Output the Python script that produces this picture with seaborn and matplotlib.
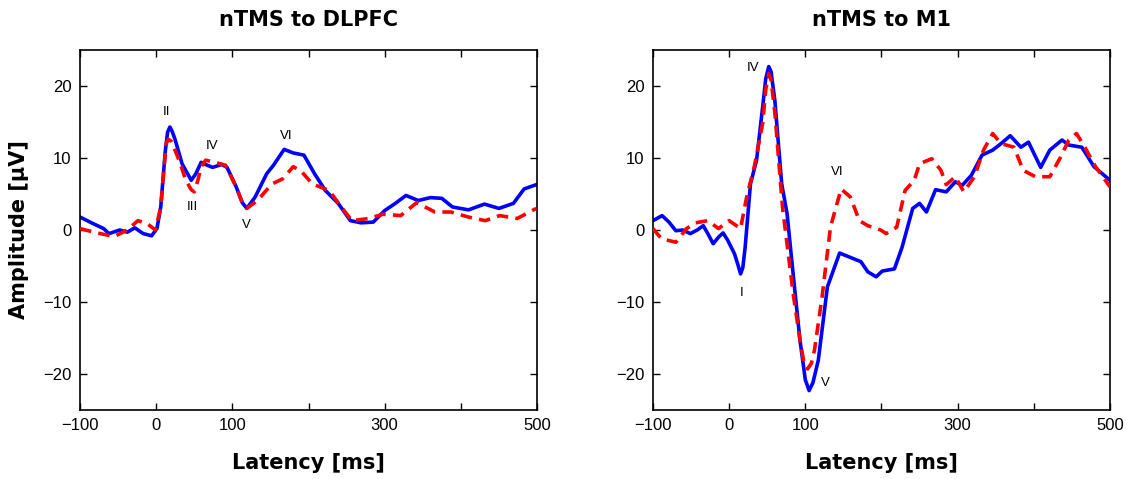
import numpy as np
import pandas as pd
import matplotlib
matplotlib.use("Agg")
import matplotlib.pyplot as plt
import seaborn as sns

# ---- data ----
dl_blue_t = [-100, -83, -69, -62, -48, -38, -28, -17, -6, 1, 6, 12, 15, 18, 21, 25, 34, 46, 52, 59, 67, 74, 86,
             93, 105, 113, 119, 130, 145, 154, 168, 180, 194, 208, 222, 239, 255, 269, 285, 300, 314, 328, 344,
             360, 375, 389, 410, 431, 450, 469, 483, 499]
dl_blue_v = [1.8, 0.9, 0.2, -0.5, 0.0, -0.3, 0.3, -0.5, -0.8, 0.2, 3.2, 11.0, 13.6, 14.3, 13.7, 12.5, 9.2, 6.9,
             7.8, 9.4, 9.0, 8.7, 9.1, 8.7, 6.0, 3.8, 3.0, 4.6, 7.8, 9.0, 11.2, 10.7, 10.4, 7.8, 5.5, 3.7, 1.3,
             1.0, 1.1, 2.7, 3.7, 4.8, 4.1, 4.5, 4.4, 3.2, 2.8, 3.6, 3.0, 3.7, 5.7, 6.3]
dl_red_t = [-100, -78, -55, -38, -24, -12, -1, 6, 13, 16, 20, 30, 39, 46, 50, 55, 59, 65, 77, 91, 105, 113, 119,
            133, 152, 166, 180, 191, 205, 227, 243, 257, 279, 298, 321, 342, 366, 387, 410, 432, 451, 474, 499]
dl_red_v = [0.2, -0.4, -0.9, 0.0, 1.3, 0.9, 0.0, 3.2, 12.0, 12.6, 12.3, 9.7, 6.9, 5.6, 5.3, 7.0, 8.8, 9.7, 9.4,
            9.0, 6.0, 3.8, 3.0, 4.1, 6.4, 7.1, 8.8, 8.1, 6.4, 5.5, 3.2, 1.3, 1.6, 2.2, 2.0, 3.8, 2.5, 2.5, 1.8,
            1.3, 2.0, 1.6, 3.0]

m1_blue_t = [-100, -88, -79, -70, -61, -51, -42, -34, -28, -21, -14, -8, -2, 7, 12, 15, 18, 21, 28, 36, 44, 48,
             52, 55, 60, 69, 76, 84, 93, 100, 105, 110, 117, 129, 145, 159, 173, 182, 193, 201, 217, 227, 241,
             250, 259, 271, 285, 297, 306, 318, 332, 346, 357, 369, 383, 393, 409, 421, 437, 446, 463, 479, 500]
m1_blue_v = [1.3, 2.0, 1.1, -0.1, 0.0, -0.5, 0.0, 0.6, -0.5, -1.9, -1.0, -0.4, -1.4, -3.3, -5.0, -6.1, -5.2,
             -2.4, 6.4, 9.7, 17.1, 21.0, 22.7, 22.0, 18.0, 6.4, 2.3, -6.1, -15.3, -20.8, -22.3, -21.2, -18.1,
             -7.9, -3.2, -3.8, -4.4, -5.8, -6.5, -5.7, -5.4, -2.4, 3.0, 3.7, 2.5, 5.6, 5.3, 6.7, 6.2, 7.6, 10.4,
             11.1, 12.0, 13.1, 11.5, 12.2, 8.7, 11.1, 12.5, 11.8, 11.5, 8.8, 6.9]
m1_red_t = [-100, -89, -70, -56, -44, -28, -14, 0, 15, 23, 33, 44, 48, 52, 55, 60, 70, 84, 93, 98, 103, 108, 112,
            122, 133, 147, 159, 171, 182, 199, 206, 220, 231, 243, 250, 266, 278, 285, 297, 308, 322, 334, 346,
            357, 374, 386, 402, 421, 435, 446, 456, 467, 481, 500]
m1_red_v = [0.2, -1.2, -1.7, 0.2, 1.0, 1.3, 0.2, 1.3, 0.2, 4.6, 8.8, 14.8, 19.5, 21.7, 20.8, 16.3, 3.2, -8.8,
            -15.3, -18.3, -19.3, -18.5, -16.7, -9.3, 0.4, 5.7, 4.6, 1.3, 0.6, 0.0, -0.5, 0.4, 5.5, 6.9, 9.2,
            9.9, 8.3, 6.3, 7.4, 5.3, 7.4, 11.1, 13.4, 12.0, 11.5, 8.3, 7.4, 7.4, 10.1, 12.5, 13.4, 11.5, 8.8,
            6.0]

titles = ["nTMS to DLPFC", "nTMS to M1"]
x_ticks = [-100, 0, 100, 200, 300, 400, 500]
x_tick_labels = ["\u2212100", "0", "100", "", "300", "", "500"]
y_ticks = [-20, -10, 0, 10, 20]
y_tick_labels = ["\u221220", "\u221210", "0", "10", "20"]

dl_labels = ["II", "III", "IV", "V", "VI"]
dl_label_t = [14, 48, 74, 119, 171]
dl_label_v = [16.4, 3.2, 11.6, 0.7, 13.1]
m1_labels = ["IV", "I", "VI", "V"]
m1_label_t = [32, 16, 142, 126]
m1_label_v = [22.5, -8.8, 8.1, -21.3]

# ---- build frames ----
def frame(t_b, v_b, t_r, v_r):
    return pd.concat([
        pd.DataFrame({"t": t_b, "v": v_b, "cond": "a"}),
        pd.DataFrame({"t": t_r, "v": v_r, "cond": "b"}),
    ], ignore_index=True)

panels = [
    (frame(dl_blue_t, dl_blue_v, dl_red_t, dl_red_v), dl_labels, dl_label_t, dl_label_v),
    (frame(m1_blue_t, m1_blue_v, m1_red_t, m1_red_v), m1_labels, m1_label_t, m1_label_v),
]

sns.set_style("ticks", {"xtick.direction": "in", "ytick.direction": "in"})
plt.rcParams["font.family"] = ["Liberation Sans", "DejaVu Sans"]
plt.rcParams["text.color"] = "black"
plt.rcParams["axes.labelcolor"] = "black"
plt.rcParams["xtick.color"] = "black"
plt.rcParams["ytick.color"] = "black"

fig = plt.figure(figsize=(11.27, 4.79), dpi=100)
axes = [fig.add_axes([0.071, 0.144, 0.4055, 0.7516]),
        fig.add_axes([0.5794, 0.144, 0.4055, 0.7516])]

for i, (ax, (df, labs, lt, lv)) in enumerate(zip(axes, panels)):
    sns.lineplot(data=df[df.cond == "b"], x="t", y="v", ax=ax, color="#ff0000",
                 lw=2.6, linestyle=(0, (3.2, 2.0)), legend=False)
    sns.lineplot(data=df[df.cond == "a"], x="t", y="v", ax=ax, color="#0000ff",
                 lw=2.6, legend=False)
    ax.lines[0].set_zorder(3)
    ax.lines[1].set_zorder(2)
    for ln in ax.lines:
        ln.set_solid_joinstyle("round")
        ln.set_dash_joinstyle("round")
    ax.set_xlim(-100, 500)
    ax.set_ylim(-25, 25)
    ax.set_xticks(x_ticks)
    ax.set_xticklabels(x_tick_labels)
    ax.set_yticks(y_ticks)
    ax.set_yticklabels(y_tick_labels)
    ax.tick_params(axis="both", which="both", direction="in", top=True, right=True,
                   length=5, width=1, labelsize=12, pad=6, colors="black")
    for sp in ax.spines.values():
        sp.set_linewidth(1.2)
        sp.set_color("black")
        sp.set_visible(True)
    ax.set_title(titles[i], fontsize=15, fontweight="bold", pad=17,
                 family=["DejaVu Sans"], color="black")
    ax.set_xlabel("Latency [ms]", fontsize=15, fontweight="bold", labelpad=14,
                  family=["DejaVu Sans"])
    if i == 0:
        ax.set_ylabel("Amplitude [\u03bcV]", fontsize=15, fontweight="bold", labelpad=10,
                      family=["DejaVu Sans"])
    else:
        ax.set_ylabel("")
    for s, tx, vy in zip(labs, lt, lv):
        ax.text(tx, vy, s, fontsize=9.5, ha="center", va="center", color="black")

fig.savefig("out.png", dpi=100)
